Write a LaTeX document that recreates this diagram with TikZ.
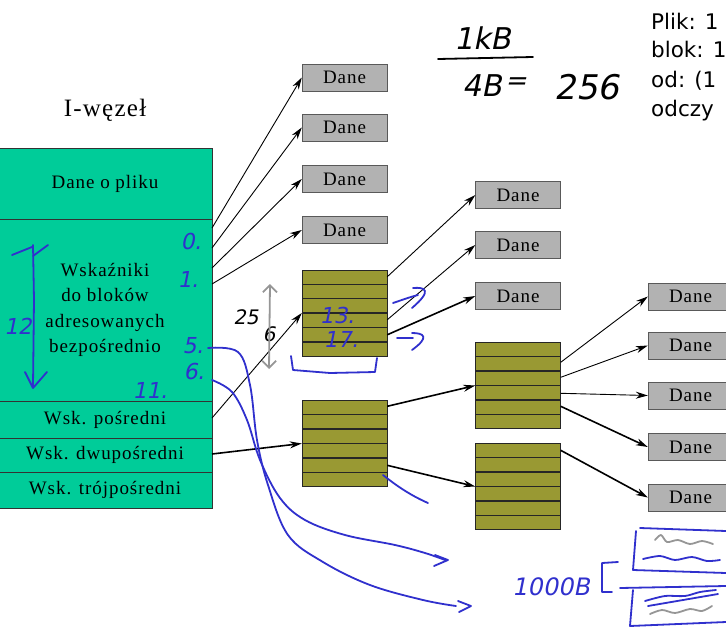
\documentclass[tikz,border=0pt]{standalone}
\usepackage{fontspec}
\setmainfont{Liberation Serif}
\newfontfamily\diagfont{Liberation Serif}[LetterSpace=5]
\newfontfamily\notefont{DejaVu Sans}
\newfontfamily\handfont{DejaVu Sans}[FakeSlant=0.2]
\usetikzlibrary{arrows.meta,calc}
\definecolor{inodegreen}{RGB}{0,204,153}
\definecolor{danegray}{RGB}{178,178,178}
\definecolor{blockolive}{RGB}{153,153,51}
\definecolor{inkblue}{RGB}{48,48,205}
\definecolor{inkgray}{RGB}{150,150,150}
\tikzstyle{inoderow}=[draw=black!80, fill=inodegreen, minimum width=214pt, inner sep=0pt, align=center, font=\diagfont\fontsize{19}{25.5}\selectfont]
\tikzstyle{dane}=[draw=black!65, fill=danegray, minimum width=85pt, minimum height=27pt, inner sep=0pt, font=\diagfont\fontsize{19}{22}\selectfont]
\tikzstyle{ptrblock}=[draw=black!85, fill=blockolive, minimum width=85pt, minimum height=86pt, inner sep=0pt]
\tikzstyle{rowline}=[draw=black!85, line width=1.4pt]
\tikzstyle{ptr}=[-{Stealth[length=12pt,width=7pt]}, line width=0.9pt]
\tikzstyle{ptrthick}=[-{Stealth[length=12pt,width=7pt]}, line width=1.6pt]
\tikzstyle{ink}=[draw=inkblue, line width=1.8pt, line cap=round, line join=round]
\tikzstyle{inktext}=[text=inkblue, inner sep=0pt, font=\handfont\fontsize{22}{22}\selectfont]
\tikzstyle{plikline}=[anchor=base west, inner sep=0pt, font=\notefont\fontsize{21.5}{27}\selectfont]

\begin{document}
\begin{tikzpicture}[x=1pt,y=-1pt]
\useasboundingbox (0,0) rectangle (726,627);
\clip (0,0) rectangle (726,627);
\node[font=\diagfont\fontsize{25}{30}\selectfont] (title) at (105,110) {I-węzeł};
\node[inoderow, minimum height=71pt] (info) at (105,183.5) {Dane o pliku};
\node[inoderow, minimum height=182pt] (direct) at (105,310) {Wskaźniki\\do bloków\\adresowanych\\bezpośrednio};
\node[inoderow, minimum height=37pt] (single) at (105,419.5) {Wsk. pośredni};
\node[inoderow, minimum height=34pt] (double) at (105,455) {Wsk. dwupośredni};
\node[inoderow, minimum height=36pt] (triple) at (105,490) {Wsk. trójpośredni};
\node[dane] (d1) at (344.5,77.5) {Dane};
\node[dane] (d2) at (344.5,127.5) {Dane};
\node[dane] (d3) at (344.5,179) {Dane};
\node[dane] (d4) at (344.5,230) {Dane};
\node[dane] (e1) at (518,195) {Dane};
\node[dane] (e2) at (518,245) {Dane};
\node[dane] (e3) at (518,296) {Dane};
\node[dane] (f1) at (690.5,296.5) {Dane};
\node[dane] (f2) at (690.5,345.5) {Dane};
\node[dane] (f3) at (690.5,395.5) {Dane};
\node[dane] (f4) at (690.5,447) {Dane};
\node[dane] (f5) at (690.5,497.5) {Dane};
\node[ptrblock] (blkS) at (344.5,313) {};
\node[ptrblock] (blkD) at (344.5,443.5) {};
\node[ptrblock] (blkD1) at (518,385.5) {};
\node[ptrblock] (blkD2) at (518,486.5) {};
\foreach \b in {blkS,blkD,blkD1,blkD2}
  \foreach \k in {1,...,5}
    \draw[rowline] ($(\b.north west)!\k/6!(\b.south west)$) -- ($(\b.north east)!\k/6!(\b.south east)$);
\coordinate (p0) at (212,228);
\coordinate (p1) at (212,248);
\coordinate (p2) at (212,268);
\coordinate (p3) at (212,284);
\coordinate (ps) at (212,418);
\coordinate (pd) at (212,454);
\coordinate (s0) at ($(blkS.north east)+(0,7)$);
\coordinate (s1) at ($(blkS.north east)+(0,50)$);
\coordinate (s2) at ($(blkS.north east)+(0,65)$);
\coordinate (t0) at ($(blkD.north east)+(0,6)$);
\coordinate (t1) at ($(blkD.north east)+(0,65)$);
\coordinate (u0) at ($(blkD1.north east)+(0,20)$);
\coordinate (u1) at ($(blkD1.north east)+(0,35)$);
\coordinate (u2) at ($(blkD1.north east)+(0,51)$);
\coordinate (u3) at ($(blkD1.north east)+(0,64)$);
\coordinate (v0) at ($(blkD2.north east)+(0,7)$);
\draw[ptr] (p0) -- (d1.west);
\draw[ptr] (p1) -- (d2.west);
\draw[ptr] (p2) -- (d3.west);
\draw[ptr] (p3) -- (d4.west);
\draw[ptr] (ps) -- (blkS.west);
\draw[ptrthick] (pd) -- (blkD.west);
\draw[ptr] (s0) -- (e1.west);
\draw[ptr] (s1) -- (e2.west);
\draw[ptrthick] (s2) -- (e3.west);
\draw[ptrthick] (t0) -- (blkD1.west);
\draw[ptrthick] (t1) -- (blkD2.west);
\draw[ptr] (u0) -- (f1.west);
\draw[ptr] (u1) -- (f2.west);
\draw[ptr] (u2) -- (f3.west);
\draw[ptrthick] (u3) -- (f4.west);
\draw[ptrthick] (v0) -- (f5.west);
\node[plikline] (plik1) at (651,29) {Plik: 1};
\node[plikline] (plik2) at (651,57) {blok: 1};
\node[plikline] (plik3) at (651,87) {od: (1};
\node[plikline] (plik4) at (651,116) {odczy};
\node[inktext, text=black, font=\handfont\fontsize{30}{30}\selectfont] (kb) at (483,38) {1kB};
\draw[ink, draw=black] (438,59) -- (533,57);
\node[inktext, text=black, font=\handfont\fontsize{30}{30}\selectfont] (den) at (482,86) {4B};
\node[inktext, text=black, font=\handfont\fontsize{26}{26}\selectfont] (eq) at (516,84) {=};
\node[inktext, text=black, font=\handfont\fontsize{34}{34}\selectfont] (res) at (587,87) {256};
\node[inktext] (n0) at (191,241) {0.};
\node[inktext] (n1) at (188,279) {1.};
\node[inktext] (n5) at (193,346) {5.};
\node[inktext] (n6) at (194,371) {6.};
\node[inktext] (n11) at (150,390) {11.};
\node[inktext] (n12) at (18,326) {12};
\node[inktext] (n13) at (337,315) {13.};
\node[inktext] (n17) at (341,339) {17.};
\node[inktext, text=black, font=\handfont\fontsize{20}{20}\selectfont] (h25) at (246,317) {25};
\node[inktext, text=black, font=\handfont\fontsize{20}{20}\selectfont] (h6) at (269,334) {6};
\draw[ink, draw=inkgray, {Straight Barb[length=7pt,width=14pt]}-{Straight Barb[length=7pt,width=14pt]}] (270,284) -- (269,369);
\draw[ink] (33,245) -- (34,300) -- (33,387);
\draw[ink] (12,255) -- (32,247);
\draw[ink] (33,256) -- (48,245);
\draw[ink] (25,372) -- (33,388) -- (47,372);
\draw[ink] (393,303) .. controls (402,300) and (410,297) .. (418,295);
\draw[ink] (413,288) .. controls (425,287) and (433,290) .. (412,308);
\draw[ink] (397,338) -- (413,338);
\draw[ink] (412,333) .. controls (424,333) and (430,337) .. (412,350);
\draw[ink] (291,356) -- (293,370) -- (330,373) -- (375,372) -- (377,358);
\draw[ink] (383,475) .. controls (398,487) and (412,496) .. (428,503);
\draw[ink] plot[smooth, tension=0.6] coordinates {(208,348) (238,352) (250,385) (257,440) (268,485) (288,535) (323,562) (370,585) (423,600) (456,606)};
\draw[ink] (458,601) -- (471,606) -- (459,612);
\draw[ink] plot[smooth, tension=0.6] coordinates {(212,380) (232,392) (247,420) (260,460) (280,498) (305,520) (345,535) (395,545) (425,553) (445,560)};
\draw[ink] (435,555) -- (448,560) -- (434,566);
\node[inktext, font=\handfont\fontsize{24}{24}\selectfont] (kilo) at (551,587) {1000B};
\draw[ink] (618,562) -- (602,563) -- (602,592) -- (612,592);
\draw[ink] (640,528) -- (726,531);
\draw[ink] (636,531) -- (633,570) -- (726,573);
\draw[ink] (620,588) -- (726,586);
\draw[ink] (633,590) -- (630,626) -- (726,622);
\draw[ink, draw=inkgray] plot[smooth] coordinates {(655,540) (661,535) (667,542) (678,540) (690,544) (702,541) (713,544)};
\draw[ink] plot[smooth] coordinates {(643,559) (660,556) (675,560) (692,557) (707,561) (720,560)};
\draw[ink] plot[smooth] coordinates {(645,601) (665,596) (685,596) (700,592) (716,590)};
\draw[ink] (648,606) -- (718,594);
\draw[ink, draw=inkgray] plot[smooth] coordinates {(650,614) (662,610) (675,613) (690,609) (702,611) (712,606)};
\end{tikzpicture}
\end{document}
